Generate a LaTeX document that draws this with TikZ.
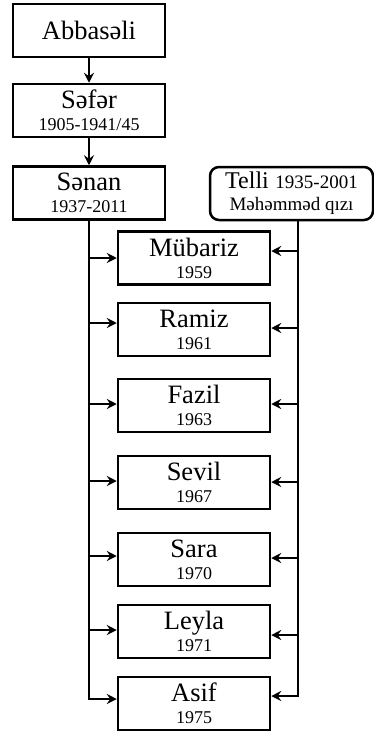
\documentclass[tikz,border=0pt]{standalone}
\usepackage{fontspec}
\setmainfont{Liberation Serif}
\usetikzlibrary{arrows.meta}
\newcommand{\nmf}{\fontsize{26.5}{23}\selectfont}
\newcommand{\yrf}{\fontsize{18}{23}\selectfont}
\newcommand{\tlf}{\fontsize{24}{23}\selectfont}
\newcommand{\tyf}{\fontsize{19}{23}\selectfont}
\begin{document}
\begin{tikzpicture}[x=1pt,y=-1pt,
  box/.style={draw,line width=2.5pt,minimum width=152pt,minimum height=53pt,inner sep=0pt,align=center,font=\nmf},
  rbox/.style={box,rounded corners=9pt,minimum width=163pt},
  ln/.style={line width=2.2pt},
  arr/.style={line width=2.2pt,-{Stealth[length=10pt,width=10pt,inset=3.5pt]}}]
\useasboundingbox[fill=white] (0,0) rectangle (374,731);
\node[box] (abb) at (89,30.5) {Abbasəli};
\node[box] (sef) at (89,110.5) {Səfər\\[-1pt]{\yrf 1905-1941/45}};
\node[box] (sen) at (89,193) {Sənan\\[-1pt]{\yrf 1937-2011}};
\node[rbox] (tel) at (291.5,193.5) {{\tlf Telli} {\tyf 1935-2001}\\[-1pt]{\tyf Məhəmməd qızı}};
\node[box] (c1) at (194,258) {Mübariz\\[-1pt]{\yrf 1959}};
\node[box] (c2) at (194,329.5) {Ramiz\\[-1pt]{\yrf 1961}};
\node[box] (c3) at (194,405.5) {Fazil\\[-1pt]{\yrf 1963}};
\node[box] (c4) at (194,482.5) {Sevil\\[-1pt]{\yrf 1967}};
\node[box] (c5) at (194,559.5) {Sara\\[-1pt]{\yrf 1970}};
\node[box] (c6) at (194,631.5) {Leyla\\[-1pt]{\yrf 1971}};
\node[box] (c7) at (194,703.5) {Asif\\[-1pt]{\yrf 1975}};
\draw[arr] (abb) -- (sef);
\draw[arr] (sef) -- (sen);
% left spine
\coordinate (l1) at (89,258);
\coordinate (l2) at (89,323);
\coordinate (l3) at (89,404);
\coordinate (l4) at (89,481);
\coordinate (l5) at (89,556);
\coordinate (l6) at (89,630);
\coordinate (l7) at (89,699);
\draw[ln] (sen.south) -- ([yshift=1.1pt]l7);
\draw[arr] (l1) -- (l1 -| c1.west);
\draw[arr] (l2) -- (l2 -| c2.west);
\draw[arr] (l3) -- (l3 -| c3.west);
\draw[arr] (l4) -- (l4 -| c4.west);
\draw[arr] (l5) -- (l5 -| c5.west);
\draw[arr] (l6) -- (l6 -| c6.west);
\draw[arr] ([xshift=-1.1pt]l7) -- (l7 -| c7.west);
% right spine
\coordinate (rt) at (298,220);
\coordinate (r1) at (298,251);
\coordinate (r2) at (298,328);
\coordinate (r3) at (298,404);
\coordinate (r4) at (298,482);
\coordinate (r5) at (298,558);
\coordinate (r6) at (298,635);
\coordinate (r7) at (298,696);
\draw[ln] (rt) -- ([yshift=1.1pt]r7);
\draw[arr] (r1) -- (r1 -| c1.east);
\draw[arr] (r2) -- (r2 -| c2.east);
\draw[arr] (r3) -- (r3 -| c3.east);
\draw[arr] (r4) -- (r4 -| c4.east);
\draw[arr] (r5) -- (r5 -| c5.east);
\draw[arr] (r6) -- (r6 -| c6.east);
\draw[arr] ([xshift=1.1pt]r7) -- (r7 -| c7.east);
\end{tikzpicture}
\end{document}
